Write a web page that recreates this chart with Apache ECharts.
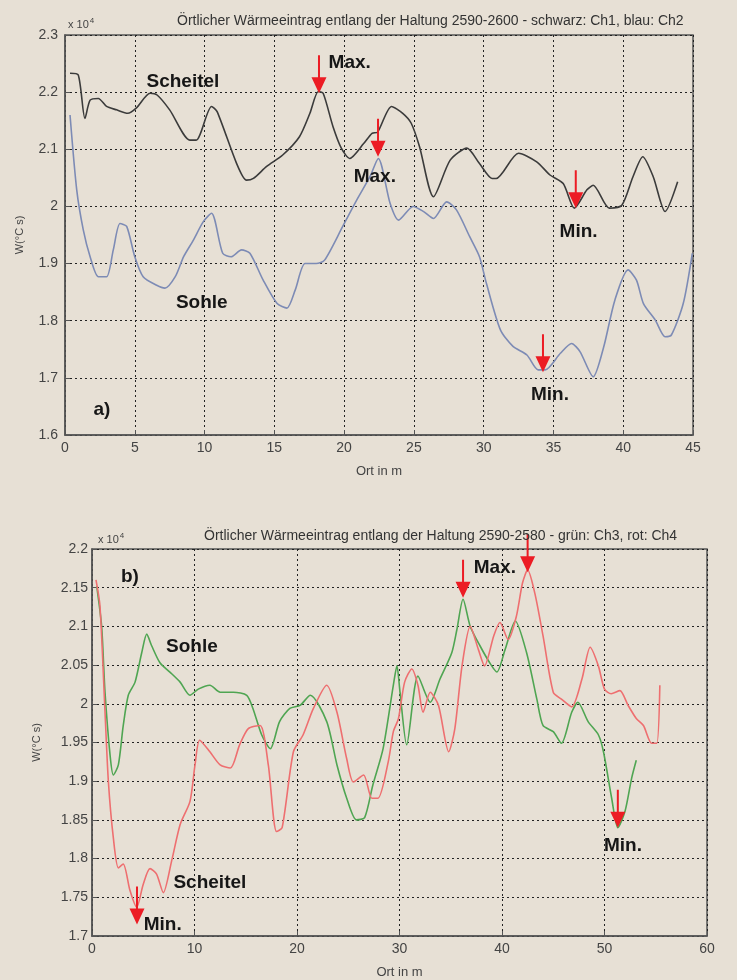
<!DOCTYPE html>
<html>
<head>
<meta charset="utf-8">
<script src="https://cdn.jsdelivr.net/npm/echarts@6/dist/echarts.min.js"></script>
<style>
html,body{margin:0;padding:0;background:#e7e0d5;}
#main{width:737px;height:980px;}
</style>
</head>
<body>
<div id="main"></div>
<script>
// a) Haltung 2590-2600, values in units of 10^4
var ch1X = [0.36,0.95,1.43,1.8,2.39,2.98,3.7,4.5,5.1,6.1,6.6,7.5,8.95,9.4,10.5,10.9,12.3,13.0,13.5,14.45,15.6,16.8,17.55,18.15,18.5,19.2,19.8,20.4,21.4,22.0,22.4,23.4,24.2,24.8,25.4,26.4,27.6,28.8,29.7,30.6,30.9,32.5,33.8,34.75,35.7,36.5,37.4,37.85,39.0,39.9,40.7,41.4,42.15,43.0,43.9];
var ch1Y = [2.233,2.23,2.154,2.186,2.189,2.175,2.169,2.163,2.172,2.198,2.195,2.169,2.116,2.116,2.175,2.166,2.075,2.046,2.049,2.070,2.090,2.122,2.163,2.201,2.198,2.140,2.102,2.084,2.110,2.128,2.130,2.175,2.163,2.146,2.105,2.017,2.081,2.102,2.075,2.049,2.049,2.093,2.078,2.055,2.040,1.997,2.029,2.037,1.997,2.002,2.052,2.087,2.052,1.991,2.043];
var ch2X = [0.36,0.84,1.31,1.8,2.39,2.98,3.46,3.94,4.42,5.0,5.6,6.57,7.16,7.9,8.5,9.2,9.9,10.5,11.3,11.9,12.65,13.25,14.2,15.2,15.9,16.5,17.2,18.0,18.6,19.9,20.9,21.85,22.45,23.3,23.9,24.95,25.7,26.4,27.35,28.05,29.0,29.7,30.2,31.2,32.1,33.1,33.9,34.4,35.5,36.3,36.9,37.85,38.6,39.4,40.35,40.95,41.45,42.3,43.0,43.45,44.3,44.95];
var ch2Y = [2.160,2.029,1.959,1.912,1.877,1.877,1.924,1.970,1.965,1.912,1.877,1.862,1.857,1.877,1.912,1.941,1.973,1.988,1.918,1.912,1.924,1.918,1.871,1.830,1.822,1.854,1.900,1.900,1.906,1.965,2.011,2.052,2.084,2.005,1.976,2.0,1.991,1.979,2.008,1.994,1.947,1.912,1.865,1.784,1.755,1.740,1.714,1.714,1.743,1.760,1.746,1.702,1.754,1.836,1.889,1.871,1.830,1.801,1.772,1.775,1.830,1.918];

// b) Haltung 2590-2580
var ch3X = [0.46,0.94,1.27,1.76,2.08,2.57,3.05,3.54,4.2,4.85,5.34,5.82,6.63,7.6,8.6,9.56,10.37,11.5,12.5,13.8,15.1,15.7,16.55,17.4,18.3,19.3,20.3,21.3,22.9,23.9,24.85,25.8,26.6,27.4,28.4,29.4,29.75,30.05,30.7,31.8,33.0,33.95,35.1,35.6,36.2,36.9,37.85,38.8,39.5,40.3,41.3,42.4,43.4,44.0,45.0,45.8,46.8,47.4,48.4,49.4,49.9,50.7,51.3,52.0,52.65,53.1];
var ch3Y = [2.152,2.100,2.015,1.934,1.908,1.921,1.972,2.011,2.028,2.066,2.090,2.075,2.053,2.041,2.028,2.011,2.019,2.024,2.015,2.015,2.011,1.994,1.960,1.942,1.977,1.994,1.998,2.011,1.977,1.921,1.878,1.850,1.853,1.895,1.942,2.024,2.049,2.015,1.947,2.036,2.002,2.032,2.066,2.096,2.135,2.100,2.075,2.053,2.041,2.070,2.107,2.066,2.006,1.972,1.964,1.949,1.989,2.002,1.977,1.960,1.938,1.878,1.840,1.861,1.904,1.927];
var ch4X = [0.39,0.78,1.27,1.6,2.08,2.57,3.05,3.7,4.36,5.0,5.66,6.3,6.96,7.77,8.6,9.56,10.05,10.5,11.5,12.5,13.5,14.4,15.25,16.4,17.2,18.0,18.55,19.65,20.6,21.6,22.9,23.9,24.85,25.5,26.5,27.3,27.9,28.9,29.4,29.9,30.5,31.2,31.8,32.3,33.0,33.8,34.8,35.4,36.1,36.9,37.7,38.3,39.2,39.8,40.6,41.4,42.0,42.5,43.2,44.0,45.0,45.8,46.8,47.8,48.6,49.4,50.0,50.65,51.5,52.3,53.1,53.8,54.6,55.1,55.4];
var ch4Y = [2.160,2.126,1.989,1.899,1.827,1.788,1.793,1.759,1.737,1.767,1.787,1.780,1.756,1.797,1.844,1.874,1.921,1.953,1.938,1.921,1.917,1.947,1.968,1.972,1.921,1.835,1.840,1.938,1.960,1.994,2.024,1.989,1.929,1.899,1.908,1.878,1.878,1.925,1.964,1.981,2.028,2.045,2.024,1.989,2.015,1.998,1.938,1.968,2.049,2.100,2.070,2.049,2.088,2.105,2.083,2.113,2.156,2.173,2.143,2.088,2.015,2.006,1.996,2.032,2.073,2.049,2.019,2.013,2.017,1.998,1.981,1.972,1.949,1.949,2.024];

// arrow tips [x, y] and text notes [x, y, text]
var arrowsA = [[18.2,2.198],[22.43,2.087],[36.6,1.997],[34.25,1.710]];
var notesA = [[8.45,2.218,'Scheitel'],[20.4,2.251,'Max.'],[22.2,2.052,'Max.'],[36.8,1.955,'Min.'],[34.75,1.67,'Min.'],[9.8,1.831,'Sohle'],[2.65,1.644,'a)']];
var arrowsB = [[4.39,1.715],[36.2,2.137],[42.5,2.17],[51.3,1.84]];
var notesB = [[3.7,2.164,'b)'],[9.75,2.074,'Sohle'],[11.5,1.769,'Scheitel'],[6.9,1.714,'Min.'],[39.3,2.176,'Max.'],[51.8,1.817,'Min.']];

var titleA = 'Örtlicher Wärmeeintrag entlang der Haltung 2590-2600 - schwarz: Ch1, blau: Ch2';
var titleB = 'Örtlicher Wärmeeintrag entlang der Haltung 2590-2580 - grün: Ch3, rot: Ch4';

var FONT = '"Liberation Sans", Arial, sans-serif';
var arrowPath = 'path://M6.5,0 L8.5,0 L8.5,22 L15,22 L7.5,38 L0,22 L6.5,22 Z';

function zip(xs, ys){
	var out = [];
	for(var i=0;i<xs.length;i++){
		out.push([xs[i], ys[i]]);
	}
	return out;
}

function marks(arrows, notes){
	var list = [];
	for(var i=0;i<arrows.length;i++){
		list.push({
			coord: arrows[i],
			symbol: arrowPath,
			symbolSize: [15,38],
			symbolOffset: [0,'-50%'],
			itemStyle: {color:'#ec1c24'},
			label: {show:false}
		});
	}
	for(var j=0;j<notes.length;j++){
		list.push({
			coord: [notes[j][0], notes[j][1]],
			symbol: 'rect',
			symbolSize: 1,
			itemStyle: {color:'rgba(0,0,0,0)'},
			label: {show:true, position:'inside', formatter:notes[j][2], color:'#161616',
				fontSize:19, fontWeight:'bold', fontFamily:FONT}
		});
	}
	return {silent:true, animation:false, data:list};
}

function xAx(idx, max, step, gap){
	return {
		type:'value', gridIndex:idx, min:0, max:max, interval:step,
		name:'Ort in m', nameLocation:'middle', nameGap:gap,
		nameTextStyle:{color:'#444', fontSize:13, fontFamily:FONT},
		axisLine:{show:true, lineStyle:{color:'#555', width:1.5}},
		axisTick:{show:true, inside:true, length:5, lineStyle:{color:'#555'}},
		axisLabel:{color:'#444', fontSize:14, fontFamily:FONT, margin:6},
		splitLine:{show:true, lineStyle:{color:'#222', type:[2,3], width:1}}
	};
}

function yAx(idx, min, max, step, gap, margin){
	return {
		type:'value', gridIndex:idx, min:min, max:max, interval:step,
		name:'W(°C s)', nameLocation:'middle', nameGap:gap,
		nameTextStyle:{color:'#444', fontSize:11, fontFamily:FONT},
		axisLine:{show:true, lineStyle:{color:'#555', width:1.5}},
		axisTick:{show:true, inside:true, length:5, lineStyle:{color:'#555'}},
		axisLabel:{color:'#444', fontSize:14, fontFamily:FONT, margin:margin,
			formatter:function(v){ return String(+v.toFixed(2)); }},
		splitLine:{show:true, lineStyle:{color:'#222', type:[2,3], width:1}}
	};
}

function line(name, xs, ys, color, idx, mp){
	var s = {
		name:name, type:'line', xAxisIndex:idx, yAxisIndex:idx,
		data:zip(xs, ys), showSymbol:false, symbol:'none', smooth:0.25,
		lineStyle:{color:color, width:1.6}
	};
	if(mp) s.markPoint = mp;
	return s;
}

var chart = echarts.init(document.getElementById('main'));
var option = {
	backgroundColor:'#e7e0d5',
	animation:false,
	title:[
		{text:titleA, left:172, top:9, textStyle:{color:'#333', fontSize:14, fontWeight:'normal', fontFamily:FONT}},
		{text:titleB, left:199, top:524, textStyle:{color:'#333', fontSize:14, fontWeight:'normal', fontFamily:FONT}},
		{text:'x 10{s|4}', left:63, top:12, textStyle:{color:'#444', fontSize:11, fontWeight:'normal', fontFamily:FONT,
			rich:{s:{fontSize:8, verticalAlign:'top', padding:[0,0,8,1], color:'#444'}}}},
		{text:'x 10{s|4}', left:93, top:527, textStyle:{color:'#444', fontSize:11, fontWeight:'normal', fontFamily:FONT,
			rich:{s:{fontSize:8, verticalAlign:'top', padding:[0,0,8,1], color:'#444'}}}}
	],
	grid:[
		{left:65, top:35, width:628, height:400, show:true, borderColor:'#555', borderWidth:1.5},
		{left:92, top:549, width:615, height:390, show:true, borderColor:'#555', borderWidth:1.5}
	],
	xAxis:[xAx(0, 45, 5, 30), xAx(1, 60, 10, 30)],
	yAxis:[yAx(0, 1.6, 2.3, 0.1, 40, 7), yAx(1, 1.7, 2.2, 0.05, 50, 4)],
	series:[
		line('Ch1', ch1X, ch1Y, '#3b3b3b', 0, marks(arrowsA, notesA)),
		line('Ch2', ch2X, ch2Y, '#7d8bb5', 0),
		line('Ch3', ch3X, ch3Y, '#4fa552', 1, marks(arrowsB, notesB)),
		line('Ch4', ch4X, ch4Y, '#ee6f70', 1)
	]
};
chart.setOption(option);
</script>
</body>
</html>
